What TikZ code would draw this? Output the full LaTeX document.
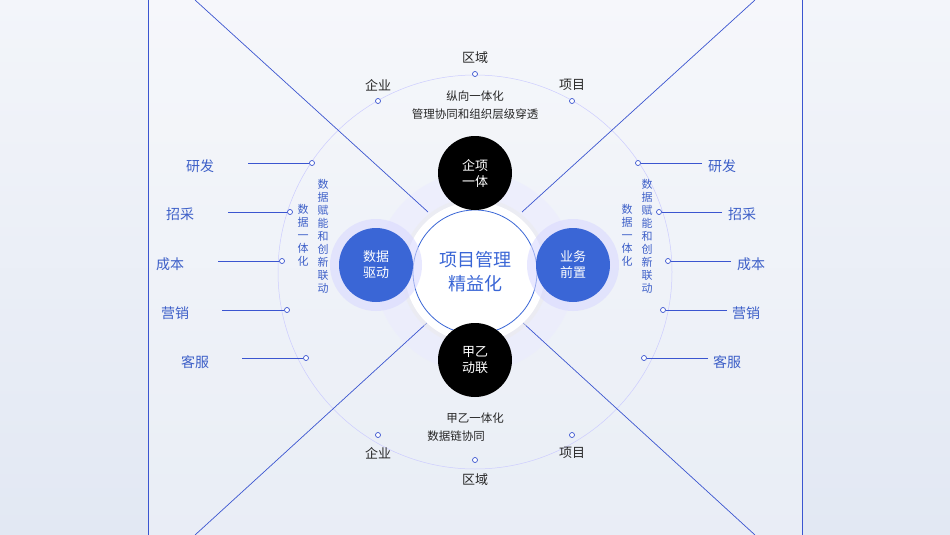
\documentclass[tikz,border=0pt]{standalone}
\usepackage{fontspec}
\newfontfamily\cjk{Noto Sans CJK SC}
\usetikzlibrary{calc}
\definecolor{bl}{HTML}{3A66D6}
\definecolor{ln}{HTML}{3B55D0}
\definecolor{lbl}{HTML}{3D5FC8}
\definecolor{bgt}{HTML}{F3F5FA}
\definecolor{bgb}{HTML}{E2E8F3}
\tikzset{
 lab/.style={font=\cjk\fontsize{14}{14}\selectfont,text=lbl},
 blk/.style={font=\cjk\fontsize{13}{13}\selectfont,text=black!85},
 sm/.style={font=\cjk\fontsize{11.5}{11.5}\selectfont,text=black!85},
 vt/.style={font=\cjk\fontsize{11}{13}\selectfont,text=lbl,align=center},
 dot/.style={circle,draw=ln,fill=white,line width=0.7pt,inner sep=0pt,minimum size=5pt},
 hl/.style={draw=ln,line width=0.7pt},
 bub/.style={circle,minimum size=74pt,inner sep=0pt,font=\cjk\fontsize{13}{16}\selectfont,text=white,align=center},
}
\begin{document}
\begin{tikzpicture}[x=1pt,y=-1pt]
\useasboundingbox (0,0) rectangle (950,535);
\shade[top color=bgt,bottom color=bgb] (0,0) rectangle (950,535);
\fill[white,opacity=0.25] (148,0) rectangle (802,535);
\draw[hl] (148,0)--(148,535) (802,0)--(802,535);
\coordinate (c) at (475,272);
\fill[blue!8,opacity=0.5] (c) circle (100);
\draw[blue!20,line width=0.5pt] (c) circle (197);
\draw[hl] (195,0)--(428,212) (195,535)--(428,322) (755,0)--(522,212) (755,535)--(522,322);
\fill[black!8,opacity=0.5] (c) circle (74);
\fill[white] (c) circle (70);
\node[circle,draw=bl,line width=0.8pt,minimum size=124pt,inner sep=0pt,fill=white,align=center,font=\cjk\fontsize{18}{24}\selectfont,text=bl] (ctr) at (c) {项目管理\\精益化};
\foreach \p/\q in {376/265,573/265}{\fill[blue!15,opacity=0.6] (\p,\q) circle (46);}
\node[bub,fill=black] (t) at (475,173) {企项\\一体};
\node[bub,fill=black] (b) at (475,360) {甲乙\\动联};
\node[bub,fill=bl] (l) at (376,265) {数据\\驱动};
\node[bub,fill=bl] (r) at (573,265) {业务\\前置};
\node[dot] (d1) at (475,74) {}; \node[blk] at (475,58) {区域};
\node[dot] (d2) at (378,101) {}; \node[blk] at (378,85) {企业};
\node[dot] (d3) at (572,101) {}; \node[blk] at (572,85) {项目};
\node[dot] (d4) at (475,460) {}; \node[blk] at (475,480) {区域};
\node[dot] (d5) at (378,435) {}; \node[blk] at (378,453) {企业};
\node[dot] (d6) at (572,435) {}; \node[blk] at (572,453) {项目};
\node[sm] at (475,96) {纵向一体化};
\node[sm] at (475,114) {管理协同和组织层级穿透};
\node[sm] at (475,418) {甲乙一体化};
\node[sm] at (456,436) {数据链协同};
\foreach \n/\tx/\ty/\la/\lb/\ly in {研发/200/166/248/312/163, 招采/180/214/228/290/212, 成本/170/264/218/282/261, 营销/175/313/222/287/310, 客服/195/362/242/306/358}{
 \node[dot] (L\n) at (\lb,\ly) {};
 \coordinate (La\n) at (\la,\ly);
 \draw[hl] (La\n)--(L\n);
 \node[lab] at (\tx,\ty) {\n};
}
\foreach \n/\tx/\ty/\la/\lb/\ly in {研发/722/166/702/638/163, 招采/742/214/722/659/212, 成本/751/264/731/668/261, 营销/746/313/727/663/310, 客服/727/362/708/644/358}{
 \node[dot] (R\n) at (\lb,\ly) {};
 \coordinate (Ra\n) at (\la,\ly);
 \draw[hl] (Ra\n)--(R\n);
 \node[lab] at (\tx,\ty) {\n};
}
\node[vt] at (303,235) {数\\据\\一\\体\\化};
\node[vt] at (323,236) {数\\据\\赋\\能\\和\\创\\新\\联\\动};
\node[vt] at (647,236) {数\\据\\赋\\能\\和\\创\\新\\联\\动};
\node[vt] at (627,235) {数\\据\\一\\体\\化};
\end{tikzpicture}
\end{document}
